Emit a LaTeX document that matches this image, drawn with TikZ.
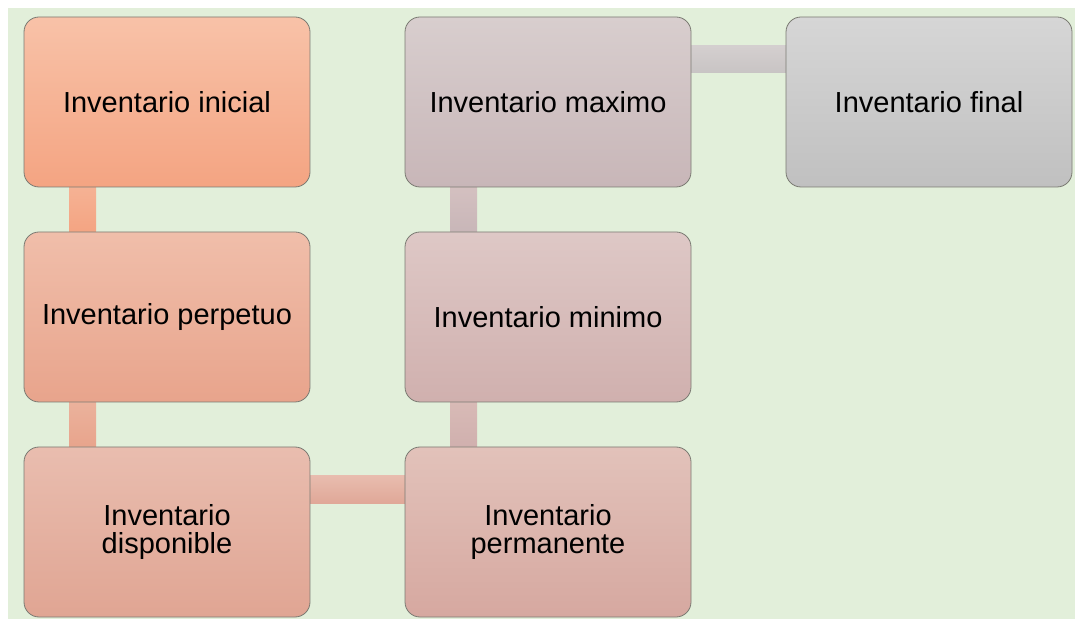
\documentclass[tikz,border=0pt]{standalone}
\usepackage{fontspec}
\setmainfont{Liberation Sans}
\usepackage{xcolor}
\usetikzlibrary{positioning,backgrounds}
\definecolor{invGreen}{HTML}{E2EFDA}
\definecolor{invEdge}{HTML}{7A7A72}
\definecolor{iniTop}{HTML}{F8C2A8}
\definecolor{iniBot}{HTML}{F4A482}
\definecolor{perTop}{HTML}{F0BEAA}
\definecolor{perBot}{HTML}{E8A48C}
\definecolor{disTop}{HTML}{E9BDAF}
\definecolor{disBot}{HTML}{E0A593}
\definecolor{prmTop}{HTML}{E2C2BA}
\definecolor{prmBot}{HTML}{D6A8A0}
\definecolor{minTop}{HTML}{DEC8C6}
\definecolor{minBot}{HTML}{D0B0AE}
\definecolor{maxTop}{HTML}{D8CECE}
\definecolor{maxBot}{HTML}{C8B6B8}
\definecolor{finTop}{HTML}{D6D6D6}
\definecolor{finBot}{HTML}{C0C0C0}
\definecolor{lnkA}{HTML}{F5B294}
\definecolor{lnkB}{HTML}{EBB29C}
\definecolor{lnkC}{HTML}{E8BCAE}
\definecolor{lnkCb}{HTML}{E0A898}
\definecolor{lnkD}{HTML}{D8BAB6}
\definecolor{lnkE}{HTML}{D4C0C0}
\definecolor{lnkF}{HTML}{D4CFCF}
\definecolor{lnkFb}{HTML}{C8C4C4}

\begin{document}
\begin{tikzpicture}[
 invbox/.style={rectangle,rounded corners=15pt,draw=invEdge,line width=0.8pt,
   minimum width=286pt,minimum height=170pt,inner sep=0pt,outer sep=0pt,
   align=center,font=\fontsize{29}{28}\selectfont},
 shadebox/.style 2 args={invbox,top color=#1,bottom color=#2},
 link/.style 2 args={top color=#1,bottom color=#2},
 node distance=45pt and 95pt]
\useasboundingbox (0,0) rectangle (1075pt,621pt);
\node[shadebox={iniTop}{iniBot}] (inicial) at (167pt,519pt) {Inventario inicial};
\node[shadebox={perTop}{perBot},below=of inicial] (perpetuo) {Inventario perpetuo};
\node[shadebox={disTop}{disBot},below=of perpetuo] (disponible) {Inventario\\disponible};
\node[shadebox={prmTop}{prmBot},right=of disponible] (permanente) {Inventario\\permanente};
\node[shadebox={minTop}{minBot},above=of permanente] (minimo) {Inventario minimo};
\node[shadebox={maxTop}{maxBot},above=of minimo] (maximo) {Inventario maximo};
\node[shadebox={finTop}{finBot},right=of maximo] (final) {Inventario final};
\begin{scope}[on background layer]
\fill[invGreen] (8pt,2pt) rectangle (1075pt,613pt);
\shade[link={lnkA}{iniBot}] ([xshift=45pt]inicial.south west) rectangle ([xshift=72pt]perpetuo.north west);
\shade[link={lnkB}{perBot}] ([xshift=45pt]perpetuo.south west) rectangle ([xshift=72pt]disponible.north west);
\shade[link={lnkC}{lnkCb}] ([yshift=-29pt]disponible.north east) rectangle ([yshift=-56pt]permanente.north west);
\shade[link={lnkD}{minBot}] ([xshift=45pt]permanente.north west) rectangle ([xshift=72pt]minimo.south west);
\shade[link={lnkE}{maxBot}] ([xshift=45pt]minimo.north west) rectangle ([xshift=72pt]maximo.south west);
\shade[link={lnkF}{lnkFb}] ([yshift=-29pt]maximo.north east) rectangle ([yshift=-56pt]final.north west);
\end{scope}
\end{tikzpicture}
\end{document}
